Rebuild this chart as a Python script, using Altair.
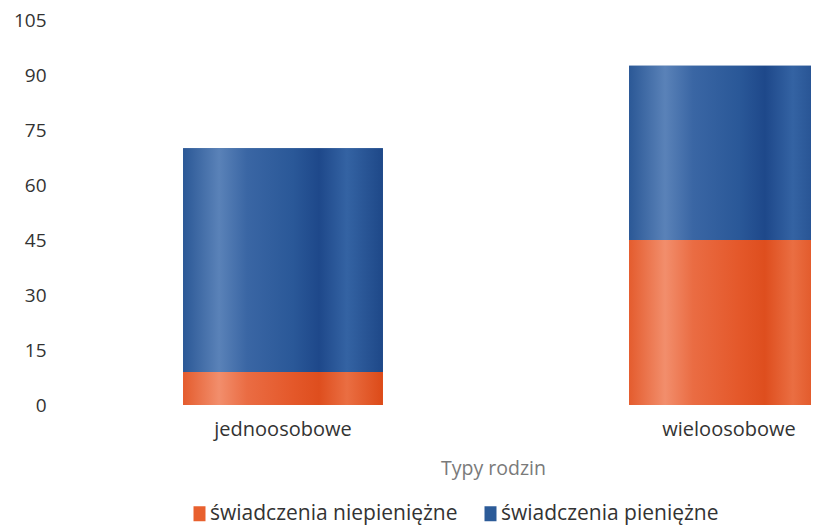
import altair as alt
import pandas as pd

categories = ["jednoosobowe", "wieloosobowe"]
series = ["świadczenia niepieniężne", "świadczenia pieniężne"]
niepieniezne = [9, 45]
pieniezne = [61, 47.5]
y_ticks = [0, 15, 30, 45, 60, 75, 90, 105]

rows = []
for i, c in enumerate(categories):
    rows.append({"typ": c, "seria": series[0], "wartosc": niepieniezne[i]})
    rows.append({"typ": c, "seria": series[1], "wartosc": pieniezne[i]})
df = pd.DataFrame(rows)

FONT = "Open Sans"
orange = "#e8602e"
blue = "#2c5b98"

grad_orange = alt.LinearGradient(
    gradient="linear", x1=0, x2=1, y1=0, y2=0,
    stops=[
        alt.GradientStop(offset=0.0, color="#e45c2e"),
        alt.GradientStop(offset=0.18, color="#f28e6c"),
        alt.GradientStop(offset=0.32, color="#ea6c43"),
        alt.GradientStop(offset=0.55, color="#e4582a"),
        alt.GradientStop(offset=0.68, color="#de4e1e"),
        alt.GradientStop(offset=0.82, color="#ea6e42"),
        alt.GradientStop(offset=1.0, color="#dc4a18"),
    ],
)
grad_blue = alt.LinearGradient(
    gradient="linear", x1=0, x2=1, y1=0, y2=0,
    stops=[
        alt.GradientStop(offset=0.0, color="#2b5896"),
        alt.GradientStop(offset=0.18, color="#5a82b8"),
        alt.GradientStop(offset=0.32, color="#3a66a4"),
        alt.GradientStop(offset=0.55, color="#2a5898"),
        alt.GradientStop(offset=0.68, color="#1e488a"),
        alt.GradientStop(offset=0.82, color="#3463a3"),
        alt.GradientStop(offset=1.0, color="#1e4888"),
    ],
)

x_enc = alt.X(
    "typ:N",
    sort=categories,
    scale=alt.Scale(range=[0, 892], paddingInner=0.552, paddingOuter=0.276),
    axis=alt.Axis(
        title="Typy rodzin",
        labelAngle=0,
        domain=False,
        ticks=False,
        labelPadding=14,
        labelFont=FONT,
        labelFontSize=20,
        labelColor="#333333",
        titleFont=FONT,
        titleFontSize=19.5,
        titleFontWeight="normal",
        titleColor="#7a7a7a",
        titleX=433,
        titleY=63,
        titleAlign="center",
        titleBaseline="middle",
    ),
)
y_enc = alt.Y(
    "wartosc:Q",
    stack="zero",
    scale=alt.Scale(domain=[0, 105], nice=False),
    axis=alt.Axis(
        title=None,
        values=y_ticks,
        grid=False,
        domain=False,
        ticks=False,
        labelPadding=14,
        labelFont=FONT,
        labelFontSize=19,
        labelColor="#333333",
    ),
)

base = alt.Chart(df).mark_bar(clip=True).encode(
    x=x_enc,
    y=y_enc,
    color=alt.Color(
        "seria:N",
        sort=series,
        scale=alt.Scale(domain=series, range=[orange, blue]),
        legend=alt.Legend(
            title=None,
            orient="none",
            legendX=129,
            legendY=483,
            direction="horizontal",
            symbolType="M-0.8,-1H0.8V1H-0.8Z",
            symbolSize=225,
            symbolStrokeWidth=0,
            labelFont=FONT,
            labelFontSize=21,
            labelColor="#333333",
            labelLimit=0,
            labelOffset=0,
            columnPadding=22,
        ),
    ),
    order=alt.Order("seria:N", sort="ascending"),
)

overlay = alt.Chart(df).mark_bar(clip=True).encode(
    x=x_enc,
    y=y_enc,
    detail="seria:N",
    order=alt.Order("seria:N", sort="ascending"),
    color=alt.condition(
        alt.datum.seria == series[0],
        alt.value(grad_orange),
        alt.value(grad_blue),
    ),
)

chart = alt.layer(base, overlay).properties(
    width=751,
    height=385,
    autosize=alt.AutoSizeParams(type="none"),
    padding={"left": 52, "top": 12, "right": 0, "bottom": 122},
    background="white",
).configure_view(stroke=None)

chart.save("out.html", embed_options={"renderer": "svg", "actions": False})
